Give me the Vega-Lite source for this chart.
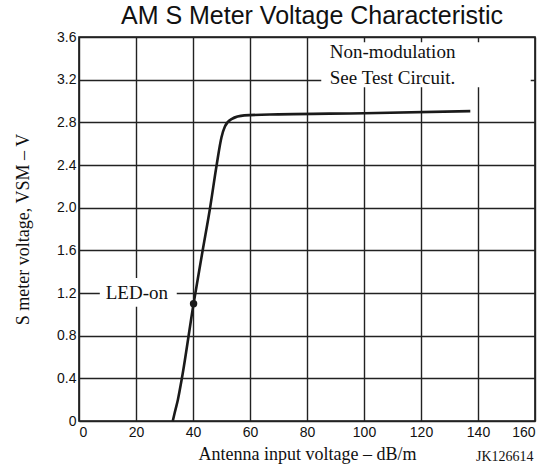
{
  "$schema": "https://vega.github.io/schema/vega-lite/v6.json",
  "autosize": "none",
  "width": 456,
  "height": 384,
  "padding": {"left": 79, "top": 37, "right": 22, "bottom": 46},
  "background": "white",
  "title": {
    "text": "AM S Meter Voltage Characteristic",
    "font": "Liberation Sans",
    "fontSize": 25,
    "fontWeight": "normal",
    "color": "#111",
    "anchor": "middle",
    "offset": 1,
    "dx": 5
  },
  "config": {
    "view": {"stroke": "#111", "strokeWidth": 1.6},
    "axis": {
      "labelFont": "Liberation Sans",
      "labelFontSize": 14,
      "labelColor": "#111",
      "titleFont": "Liberation Serif",
      "titleFontSize": 18,
      "titleFontWeight": "normal",
      "titleColor": "#111"
    }
  },
  "datasets": {
    "curve": [
      {"x": 32.9, "V": 0.0},
      {"x": 33.6, "V": 0.08},
      {"x": 34.7, "V": 0.2},
      {"x": 36.1, "V": 0.4},
      {"x": 40.2, "V": 1.1},
      {"x": 43.4, "V": 1.6},
      {"x": 46.0, "V": 2.0},
      {"x": 48.3, "V": 2.4},
      {"x": 50.0, "V": 2.66},
      {"x": 51.2, "V": 2.76},
      {"x": 53.5, "V": 2.83},
      {"x": 58.0, "V": 2.865},
      {"x": 70.0, "V": 2.875},
      {"x": 100.0, "V": 2.885},
      {"x": 137.3, "V": 2.905}
    ],
    "led": [{"x": 40.2, "V": 1.1}],
    "notes": [
      {"x": 88, "V": 3.46, "label": "Non-modulation"},
      {"x": 88, "V": 3.22, "label": "See Test Circuit."}
    ]
  },
  "layer": [
    {
      "data": {"name": "curve"},
      "mark": {"type": "line", "color": "#1a1a1a", "strokeWidth": 2.6, "interpolate": "monotone"},
      "encoding": {
        "x": {"field": "x", "type": "quantitative", "scale": {"domain": [0, 160], "nice": false, "zero": false},
          "axis": {"grid": true, "gridColor": "#222", "gridOpacity": 1, "gridWidth": 1.4, "domain": false, "tickSize": 0, "values": [0, 20, 40, 60, 80, 100, 120, 140, 160], "title": "Antenna input voltage – dB/m", "titlePadding": 6, "labelPadding": 4}},
        "y": {"field": "V", "type": "quantitative", "scale": {"domain": [0, 3.6], "nice": false, "zero": false},
          "axis": {"grid": true, "gridColor": "#222", "gridOpacity": 1, "gridWidth": 1.4, "domain": false, "tickSize": 0, "values": [0, 0.4, 0.8, 1.2, 1.6, 2.0, 2.4, 2.8, 3.2, 3.6], "labelExpr": "datum.value == 0 ? '0' : format(datum.value, '.1f')", "title": "S meter voltage, VSM – V", "titlePadding": 24, "labelPadding": 3}}
      }
    },
    {
      "data": {"values": [{"x": 85, "x2": 158.5, "V": 3.13, "V2": 3.55}]},
      "mark": {"type": "rect", "fill": "white"},
      "encoding": {
        "x": {"field": "x", "type": "quantitative"},
        "x2": {"field": "x2"},
        "y": {"field": "V", "type": "quantitative"},
        "y2": {"field": "V2"}
      }
    },
    {
      "data": {"values": [{"x": 7.3, "x2": 34.3, "V": 1.07, "V2": 1.34}]},
      "mark": {"type": "rect", "fill": "white"},
      "encoding": {
        "x": {"field": "x", "type": "quantitative"},
        "x2": {"field": "x2"},
        "y": {"field": "V", "type": "quantitative"},
        "y2": {"field": "V2"}
      }
    },
    {
      "data": {"name": "notes"},
      "mark": {"type": "text", "align": "left", "baseline": "middle", "font": "Liberation Serif", "fontSize": 19, "color": "#111"},
      "encoding": {
        "x": {"field": "x", "type": "quantitative"},
        "y": {"field": "V", "type": "quantitative"},
        "text": {"field": "label"}
      }
    },
    {
      "data": {"values": [{"x": 20.3, "V": 1.2, "label": "LED-on"}]},
      "mark": {"type": "text", "align": "center", "baseline": "middle", "font": "Liberation Serif", "fontSize": 19, "color": "#111"},
      "encoding": {
        "x": {"field": "x", "type": "quantitative"},
        "y": {"field": "V", "type": "quantitative"},
        "text": {"field": "label"}
      }
    },
    {
      "data": {"values": [{"x": 149.4, "V": -0.34, "label": "JK126614"}]},
      "mark": {"type": "text", "align": "center", "baseline": "middle", "font": "Liberation Serif", "fontSize": 14, "color": "#111"},
      "encoding": {
        "x": {"field": "x", "type": "quantitative"},
        "y": {"field": "V", "type": "quantitative"},
        "text": {"field": "label"}
      }
    },
    {
      "data": {"name": "led"},
      "mark": {"type": "point", "filled": true, "color": "#1a1a1a", "size": 55, "opacity": 1},
      "encoding": {
        "x": {"field": "x", "type": "quantitative"},
        "y": {"field": "V", "type": "quantitative"}
      }
    }
  ]
}
